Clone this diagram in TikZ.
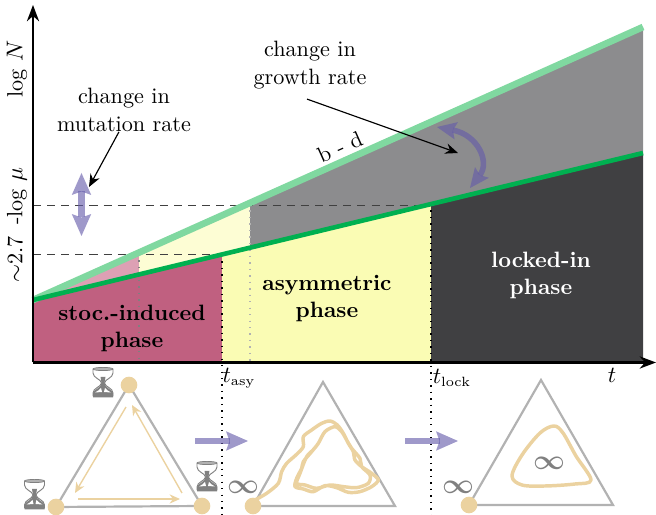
\documentclass[tikz,border=0pt]{standalone}
\usepackage{amsmath}
\usepackage{amssymb}
\usetikzlibrary{arrows.meta,calc}

\definecolor{crimsonfill}{RGB}{192,96,128}
\definecolor{pinkfill}{RGB}{221,160,180}
\definecolor{yellowfill}{RGB}{250,252,180}
\definecolor{paleyellow}{RGB}{253,253,212}
\definecolor{midgray}{RGB}{140,140,142}
\definecolor{lockgray}{RGB}{64,64,66}
\definecolor{growthgreen}{RGB}{0,176,80}
\definecolor{palegreen}{RGB}{128,216,160}
\definecolor{sandcol}{RGB}{235,210,160}
\definecolor{purplecol}{RGB}{100,90,170}
\definecolor{simplexcol}{RGB}{178,178,178}

\newcommand{\labelfont}{\fontsize{9.6}{11.8}\selectfont}
\newcommand{\timelabel}[1]{$t_{\hbox{\fontsize{5.8}{6}\selectfont #1}}$}

\tikzset{
  every node/.style={font=\labelfont},
  phaselabel/.style={font=\labelfont\bfseries, align=center},
  notelabel/.style={align=center, inner sep=0pt},
  notearrow/.style={line width=0.5pt, -{Stealth[length=5.5pt,width=4.5pt]}},
  changearrow/.style={purplecol, opacity=0.62, line width=2.9pt},
  changetip/.tip={Stealth[length=9.5pt,width=8.4pt,inset=1.5pt,line width=0pt]},
  curvetip/.tip={Stealth[length=8.5pt,width=7.6pt,inset=1.5pt,line width=0pt]},
  dashlevel/.style={dash pattern=on 3.5pt off 2.6pt, black!75, line width=0.4pt},
  phaseline/.style={dash pattern=on 0.6pt off 2.2pt, line width=0.6pt},
  simplexedge/.style={simplexcol, line width=0.95pt, line join=miter},
  fixedpoint/.style={circle, fill=sandcol, inner sep=0pt, minimum size=7.2pt},
  flowarrow/.style={sandcol, line width=0.6pt, -{Stealth[length=4.5pt,width=4pt]}},
  orbit/.style={sandcol, line width=1.5pt},
  infinitylabel/.style={black!50, font=\fontsize{11.5}{12}\selectfont\boldmath},
  pics/hourglass/.style={code={
    \draw[black!50, fill=white, line width=0.4pt]
      (-10,-14) -- (-10,-10) .. controls (-10,-5) and (-2,-4) .. (-1.5,0)
      .. controls (-2,4) and (-10,5) .. (-10,10) -- (-10,13) -- (10,13) -- (10,10)
      .. controls (10,5) and (2,4) .. (1.5,0)
      .. controls (2,-4) and (10,-5) .. (10,-10) -- (10,-14) -- cycle;
    \fill[black!50] (-2.5,-6) -- (2.5,-6) -- (1.5,0) .. controls (1.5,5) and (9,6) .. (10,10)
      -- (10,14.5) -- (-10,14.5) -- (-10,10) .. controls (-9,6) and (-1.5,5) .. (-1.5,0) -- cycle;
    \fill[white] (-8,9.5) .. controls (-6,8) and (-3,7) .. (-2,5) -- (-1,9) -- cycle;
    \fill[white] (8,9.5) .. controls (6,8) and (3,7) .. (2,5) -- (1,9) -- cycle;
    \draw[black!50, fill=black!30, line width=0.3pt] (0,-14) ellipse (10 and 1.6);
  }},
}

\begin{document}
\begin{tikzpicture}[>=Stealth, x=0.4325pt, y=-0.4325pt, line join=round]
  \useasboundingbox (0,0) rectangle (656,515);

  % --- phase regions ---
  \fill[crimsonfill] (33,300) -- (222,255) -- (222,362) -- (33,362) -- cycle;
  \fill[pinkfill] (33,300) -- (139,253) -- (139,274.5) -- cycle;
  \fill[paleyellow] (139,253) -- (250,204) -- (250,247.5) -- (139,274.5) -- cycle;
  \fill[yellowfill] (222,255) -- (431,204) -- (431,362) -- (222,362) -- cycle;
  \fill[midgray] (250,204) -- (643,27) -- (643,153) -- (250,247.5) -- cycle;
  \fill[lockgray] (431,204) -- (643,153) -- (643,362) -- (431,362) -- cycle;

  % --- phase boundaries ---
  \draw[phaseline, black!50] (139,254) -- (139,362);
  \draw[phaseline, black!30] (250,204) -- (250,362);
  \draw[dashlevel] (33,205) -- (431,205);
  \draw[dashlevel] (33,254) -- (222,254);
  \draw[phaseline] (222,255) -- (222,515);
  \draw[phaseline] (431,204) -- (431,515);

  % --- growth lines ---
  \draw[palegreen, line width=2.9pt] (33,300) -- (643,27);
  \draw[growthgreen, line width=2pt] (33,300) -- (643,153);

  % --- axes ---
  \draw[->, line width=0.9pt] (33,362.5) -- (656,362.5);
  \draw[->, line width=0.9pt] (33,362.5) -- (33,5);

  \node[rotate=90] (logN) at (17,69) {log $N$};
  \node[rotate=90] (logmu) at (17,225) {$\sim$2.7\ \,-log $\mu$};
  \node (tasy) at (239,378) {\timelabel{asy}};
  \node (tlock) at (452,378) {\timelabel{lock}};
  \node (tend) at (612,375) {$t$};

  % --- annotations ---
  \node[notelabel] (mutnote) at (124,110) {change in\\ mutation rate};
  \node[notelabel] (grownote) at (310,65) {change in\\ growth rate};
  \node[rotate=24] (bminusd) at (340,147) {b - d};
  \coordinate (mutpoint) at (89,187);
  \coordinate (growpoint) at (458,153);
  \draw[notearrow] (mutnote.-103) -- (mutpoint);
  \draw[notearrow] ($(grownote.south)+(-3,10)$) -- (growpoint);

  \node[phaselabel] (stocphase) at (132,328.5) {stoc.-induced\\ phase};
  \node[phaselabel] (asymphase) at (327,298.5) {asymmetric\\ phase};
  \node[phaselabel, white] (lockphase) at (541,275.5) {locked-in\\ phase};

  % --- purple arrows ---
  \draw[changearrow, line width=3.2pt, {changetip}-{changetip}] (81.5,173) -- (81.5,236);
  \draw[changearrow, line width=2.4pt, {curvetip}-{curvetip}]
    (437,127) .. controls (478,135) and (490,162) .. (470,188);
  \draw[changearrow, -{changetip}] (195,441) -- (248,441);
  \draw[changearrow, -{changetip}] (405,441) -- (458,441);

  % --- left simplex: all stochastic ---
  \coordinate (topA) at (129,385);
  \coordinate (leftA) at (56,507);
  \coordinate (rightA) at (202,506);
  \draw[simplexedge] (topA) -- (leftA) -- (rightA) -- cycle;
  \node[fixedpoint] (nodeA) at (topA) {};
  \node[fixedpoint] (nodeB) at (leftA) {};
  \node[fixedpoint] (nodeC) at (rightA) {};
  \coordinate (flowA) at (126,407);
  \coordinate (flowB) at (75,493);
  \coordinate (flowC) at (78,499);
  \coordinate (flowD) at (180,499);
  \coordinate (flowE) at (182,493);
  \coordinate (flowF) at (132,405);
  \draw[flowarrow] (flowA) -- (flowB);
  \draw[flowarrow] (flowC) -- (flowD);
  \draw[flowarrow] (flowE) -- (flowF);
  \pic at (103,383) {hourglass};
  \pic at (34.5,495) {hourglass};
  \pic at (207,477) {hourglass};

  % --- middle simplex: noisy orbit ---
  \coordinate (topB) at (323,382);
  \coordinate (leftB) at (253,506);
  \coordinate (rightB) at (395,506);
  \draw[simplexedge] (topB) -- (leftB) -- (rightB) -- cycle;
  \begin{scope}[shift={(250,415)}, scale=0.3333]
    \draw[orbit] plot[smooth, tension=0.5] coordinates {
      (15,255) (50,235) (85,205) (95,170) (110,145) (140,118) (160,95) (160,65)
      (185,45) (215,25) (240,18) (262,30) (280,55) (295,85) (310,110) (315,135)
      (335,155) (365,175) (385,195) (365,215) (330,230) (295,232) (260,218)
      (225,212) (190,230) (160,222) (135,215) (140,190) (155,160) (160,140)
      (185,110) (205,85) (225,50) (255,35) (275,50) (290,75) (305,100) (330,130)
      (335,155) (360,180) (355,205) (320,218) (280,215) (240,210) (200,220)
      (165,210) (140,205) (150,175) (170,125) (190,105)};
  \end{scope}
  \node[fixedpoint] (nodeD) at (leftB) {};
  \node[infinitylabel] (infB) at (243,487) {$\infty$};

  % --- right simplex: smooth orbit ---
  \coordinate (topC) at (541,380);
  \coordinate (leftC) at (469,505);
  \coordinate (rightC) at (613,505);
  \draw[simplexedge] (topC) -- (leftC) -- (rightC) -- cycle;
  \draw[orbit] plot[smooth cycle, tension=0.55] coordinates {
    (554,426) (563,433) (576,456) (591,480) (575,484) (545,486) (522,485)
    (512,476) (522,455) (540,433)};
  \node[fixedpoint] (nodeE) at (leftC) {};
  \node[infinitylabel] (infC) at (458,487) {$\infty$};
  \node[infinitylabel] (infD) at (549,463) {$\infty$};
\end{tikzpicture}
\end{document}
